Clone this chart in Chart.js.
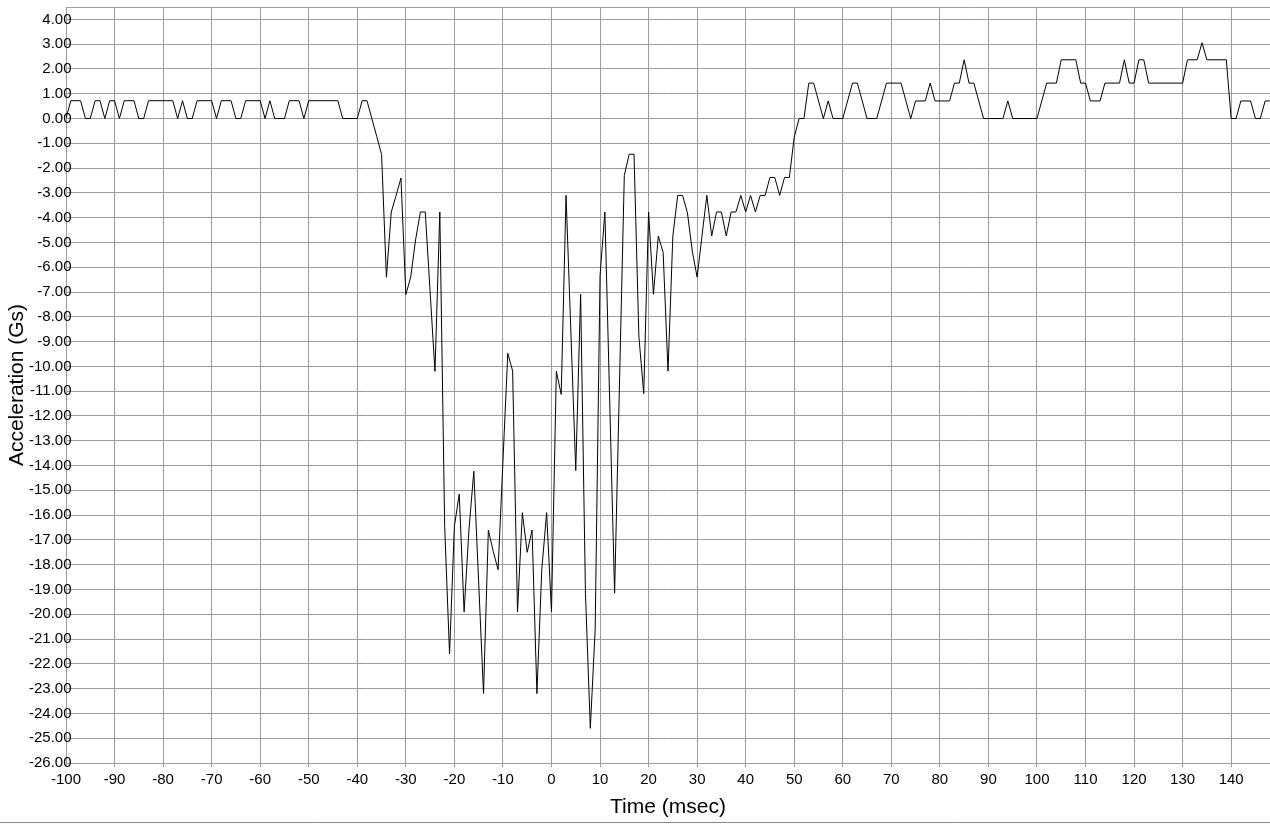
<!DOCTYPE html>
<html lang="en">

<head>
    <meta charset="UTF-8">
    <title>Acceleration vs Time</title>
    <script src="https://cdn.jsdelivr.net/npm/chart.js"></script>
    <style>
        html, body { margin: 0; padding: 0; background: #fff; }
        #wrap { width: 1270px; height: 824px; position: relative; }
    </style>
</head>

<body>
    <div id="wrap"><canvas id="accelChart"></canvas></div>

    <script>
        // time (msec) and acceleration (Gs) at the corners of the trace
        const times = [
            -100, -99, -97, -96, -95, -94, -93, -92, -91, -90, -89, -88, -86, -85, -84, -83,
            -78, -77, -76, -75, -74, -73, -70, -69, -68, -66, -65, -64, -63, -60, -59, -58,
            -57, -55, -54, -52, -51, -50, -44, -43, -40, -39, -38, -37, -36, -35, -34, -33,
            -32, -31, -30, -29, -28, -27, -26, -24, -23, -22, -21, -20, -19, -18, -17, -16,
            -14, -13, -12, -11, -9, -8, -7, -6, -5, -4, -3, -2, -1, 0, 1, 2,
            3, 5, 6, 7, 8, 9, 10, 11, 13, 15, 16, 17, 18, 19, 20, 21,
            22, 23, 24, 25, 26, 27, 28, 29, 30, 31, 32, 33, 34, 35, 36, 37,
            38, 39, 40, 41, 42, 43, 44, 45, 46, 47, 48, 49, 50, 51, 52, 53,
            54, 56, 57, 58, 60, 62, 63, 65, 67, 69, 72, 74, 75, 77, 78, 79,
            82, 83, 84, 85, 86, 87, 89, 93, 94, 95, 100, 102, 104, 105, 108, 109,
            110, 111, 113, 114, 117, 118, 119, 120, 121, 122, 123, 130, 131, 133, 134, 135,
            139, 140, 141, 142, 144, 145, 146, 147, 148
        ];
        const accel = [
            0, 0.72, 0.72, 0, 0, 0.72, 0.72, 0, 0.72, 0.72, 0, 0.72, 0.72, 0, 0, 0.72,
            0.72, 0, 0.72, 0, 0, 0.72, 0.72, 0, 0.72, 0.72, 0, 0, 0.72, 0.72, 0, 0.72,
            0, 0, 0.72, 0.72, 0, 0.72, 0.72, 0, 0, 0.72, 0.72, 0, -0.72, -1.45, -6.4, -3.77,
            -3.1, -2.4, -7.1, -6.4, -4.9, -3.77, -3.77, -10.2, -3.77, -16.45, -21.6, -16.45, -15.15, -19.9, -16.6, -14.23,
            -23.2, -16.6, -17.46, -18.2, -9.47, -10.19, -19.9, -15.9, -17.5, -16.6, -23.2, -18.2, -15.9, -19.9, -10.19, -11.13,
            -3.1, -14.2, -7.09, -19.15, -24.6, -20.6, -6.35, -3.77, -19.15, -2.3, -1.44, -1.44, -8.77, -11.1, -3.77, -7.09,
            -4.74, -5.4, -10.19, -4.74, -3.1, -3.1, -3.8, -5.35, -6.4, -4.74, -3.1, -4.74, -3.77, -3.77, -4.74, -3.77,
            -3.77, -3.1, -3.77, -3.1, -3.77, -3.1, -3.1, -2.38, -2.38, -3.1, -2.38, -2.38, -0.75, 0, 0, 1.43,
            1.43, 0, 0.71, 0, 0, 1.43, 1.43, 0, 0, 1.43, 1.43, 0, 0.71, 0.71, 1.43, 0.71,
            0.71, 1.43, 1.43, 2.37, 1.43, 1.43, 0, 0, 0.71, 0, 0, 1.43, 1.43, 2.37, 2.37, 1.43,
            1.43, 0.71, 0.71, 1.43, 1.43, 2.37, 1.43, 1.43, 2.37, 2.37, 1.43, 1.43, 2.37, 2.37, 3.06, 2.37,
            2.37, 0, 0, 0.71, 0.71, 0, 0, 0.71, 0.71
        ];

        const xTitle = 'Time (msec)';
        const yTitle = 'Acceleration (Gs)';
        const gridColor = '#9c9c9c';
        const font = 'Liberation Sans, Arial, sans-serif';

        const points = times.map((t, i) => ({ x: t, y: accel[i] }));

        // thin frame line along the bottom of the picture
        const bottomRule = {
            id: 'bottomRule',
            afterDraw(chart) {
                const ctx = chart.ctx;
                ctx.save();
                ctx.strokeStyle = '#8a8a8a';
                ctx.lineWidth = 1;
                ctx.beginPath();
                ctx.moveTo(0, chart.height - 1.5);
                ctx.lineTo(chart.width, chart.height - 1.5);
                ctx.stroke();
                ctx.restore();
            }
        };

        const ctx = document.getElementById('accelChart').getContext('2d');
        new Chart(ctx, {
            type: 'line',
            data: {
                datasets: [{
                    data: points,
                    borderColor: '#000',
                    borderWidth: 1,
                    pointRadius: 0,
                    tension: 0,
                    fill: false
                }]
            },
            options: {
                responsive: true,
                maintainAspectRatio: false,
                animation: false,
                layout: { padding: 0 },
                plugins: {
                    legend: { display: false },
                    tooltip: { enabled: false }
                },
                scales: {
                    x: {
                        type: 'linear',
                        position: 'bottom',
                        min: -100,
                        max: 148,
                        afterFit: s => { s.height = 61; },
                        border: { color: gridColor },
                        grid: { color: gridColor, tickLength: 4, tickColor: gridColor },
                        ticks: {
                            stepSize: 10,
                            includeBounds: false,
                            autoSkip: false,
                            maxRotation: 0,
                            padding: 4,
                            color: '#000',
                            font: { family: font, size: 15 },
                            callback: v => String(v)
                        },
                        title: {
                            display: true,
                            text: xTitle,
                            color: '#000',
                            font: { family: font, size: 21 },
                            padding: { bottom: 4 }
                        }
                    },
                    top: {
                        type: 'linear',
                        position: 'top',
                        min: -100,
                        max: 148,
                        afterFit: s => { s.height = 7; },
                        border: { color: gridColor },
                        grid: { display: false },
                        ticks: { display: false }
                    },
                    y: {
                        min: -26,
                        max: 4.5,
                        afterFit: s => { s.width = 66; },
                        border: { color: gridColor },
                        grid: { color: gridColor, drawTicks: false },
                        ticks: {
                            stepSize: 1,
                            includeBounds: false,
                            autoSkip: false,
                            // mirrored labels are not clipped, so they can run over the axis line
                            mirror: true,
                            crossAlign: 'far',
                            padding: -37,
                            color: '#000',
                            font: { family: font, size: 15 },
                            callback: v => v.toFixed(2)
                        },
                        title: {
                            display: true,
                            text: yTitle,
                            color: '#000',
                            font: { family: font, size: 21 },
                            padding: { top: 5 }
                        }
                    }
                }
            },
            plugins: [bottomRule]
        });
    </script>
</body>

</html>
